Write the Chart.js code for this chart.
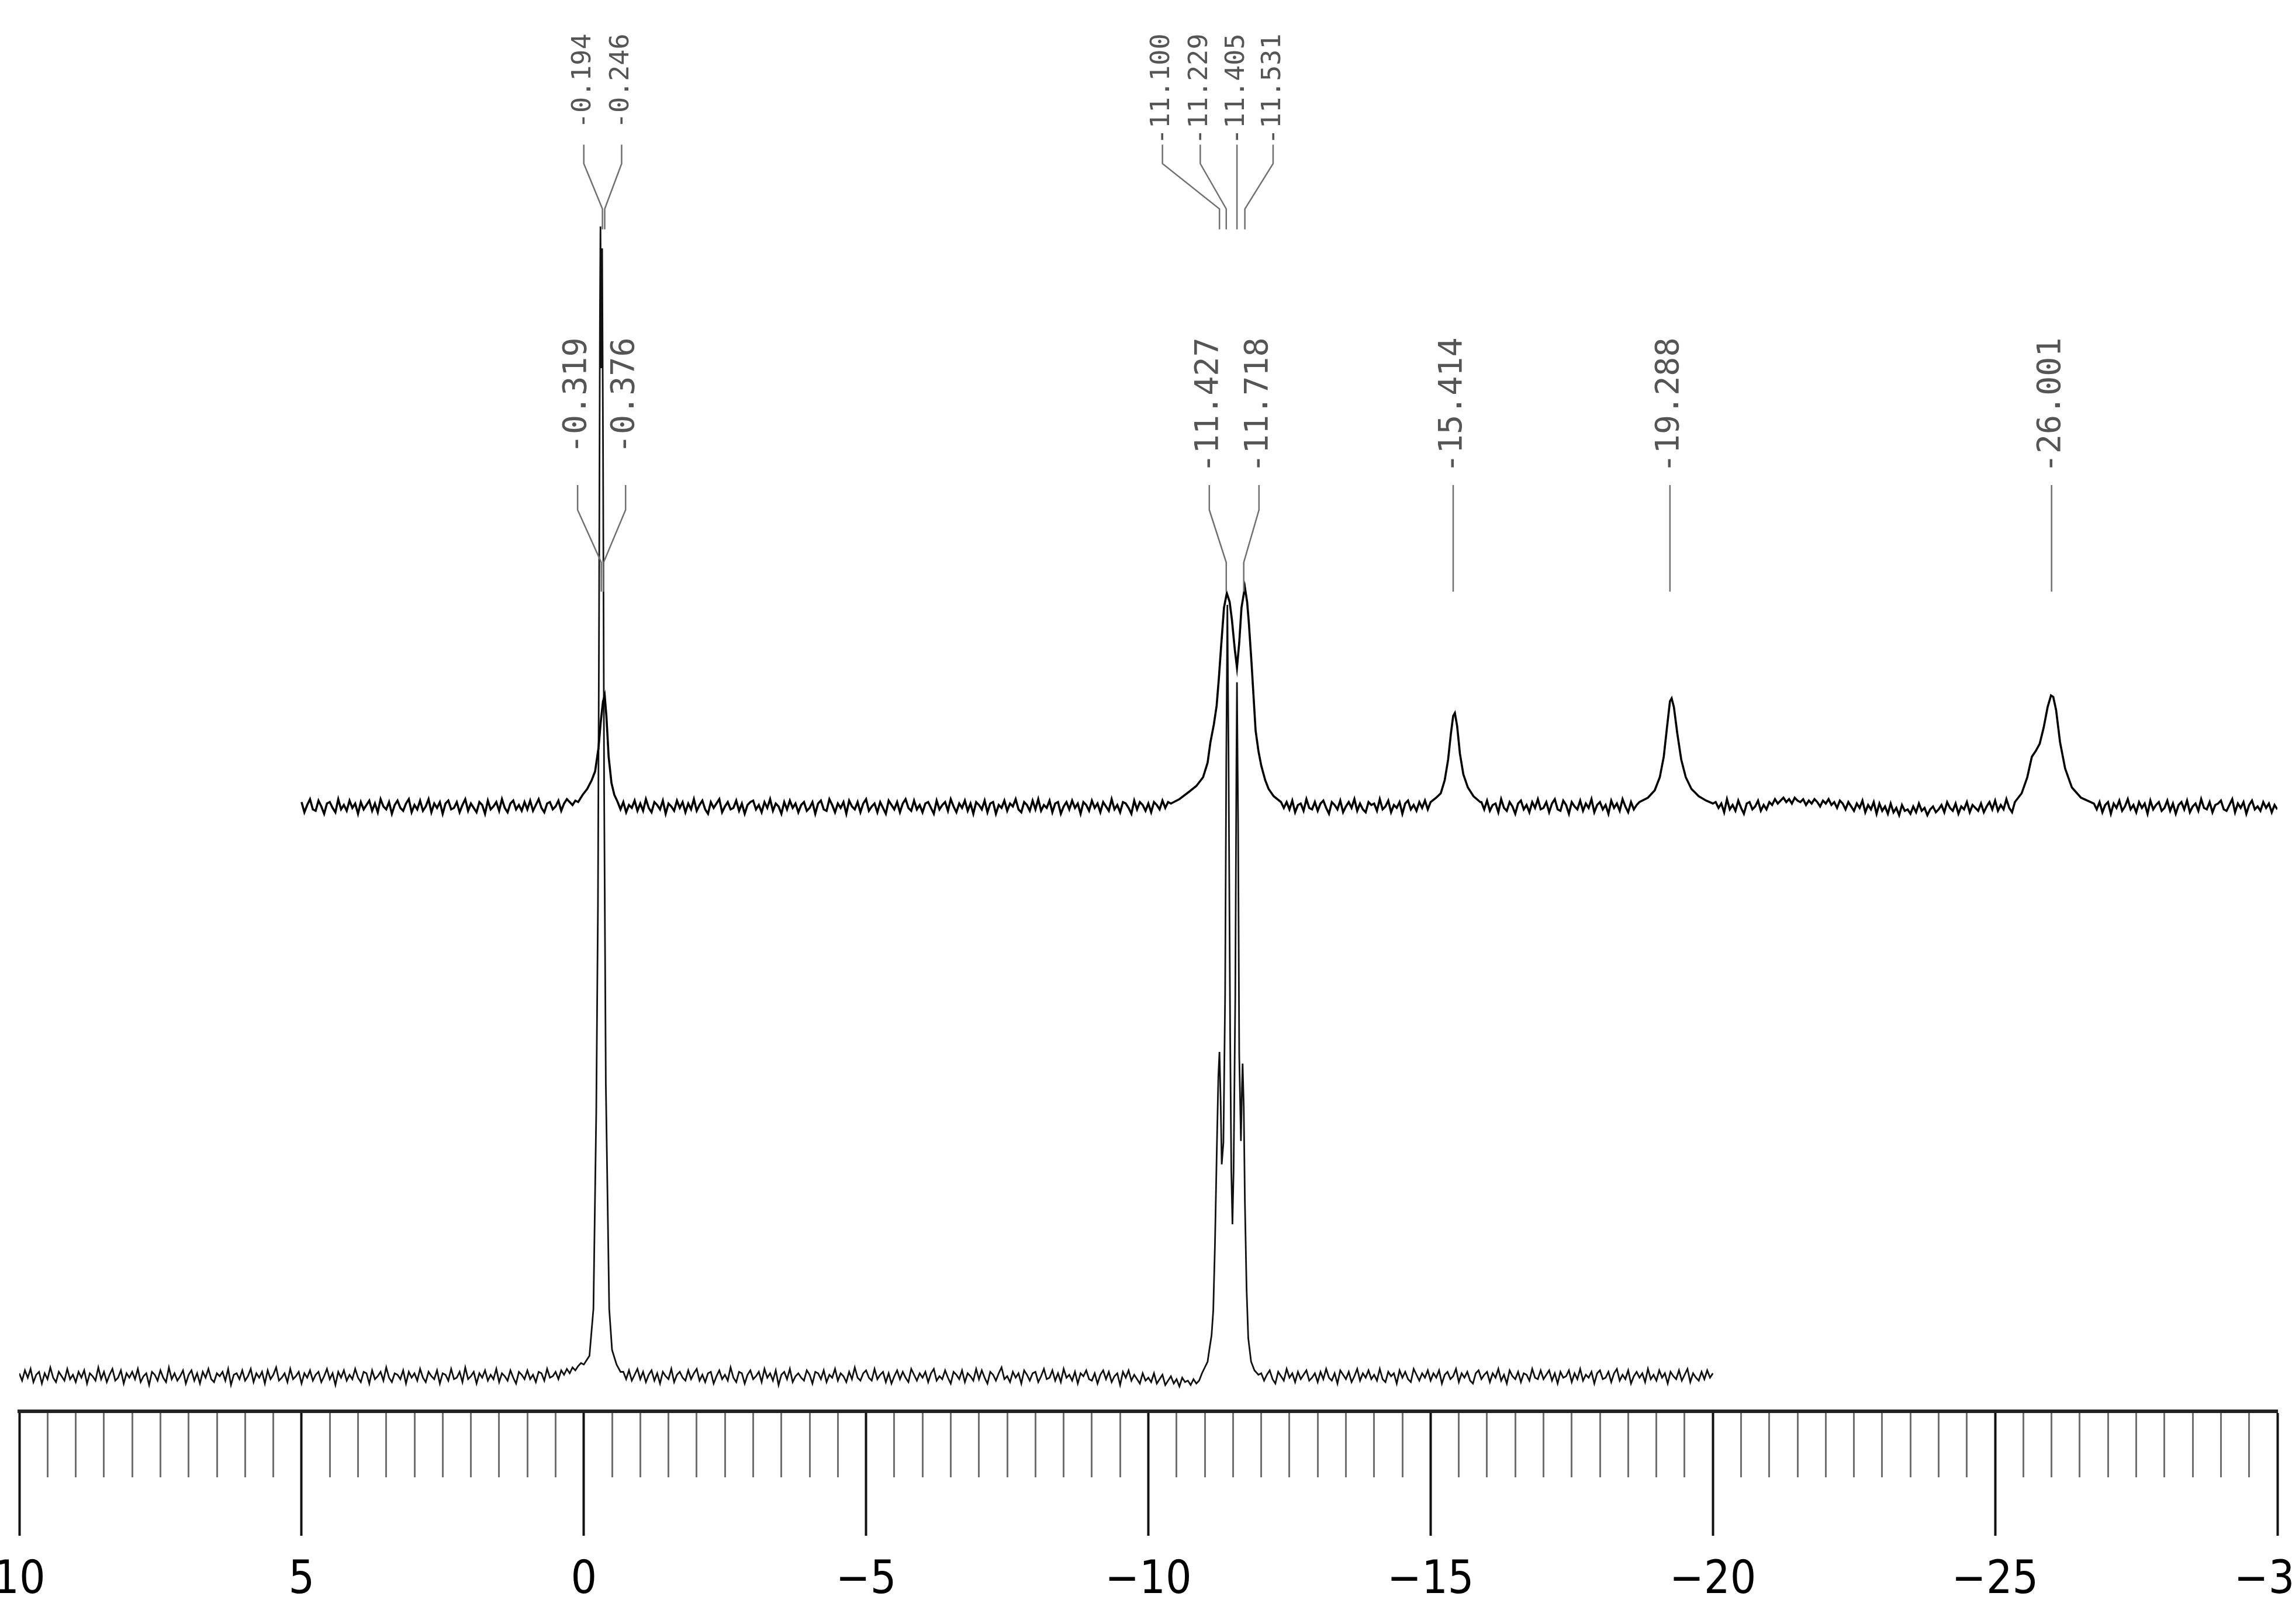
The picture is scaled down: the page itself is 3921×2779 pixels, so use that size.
<!DOCTYPE html>
<html>
<head>
<meta charset="utf-8">
<script src="https://cdn.jsdelivr.net/npm/chart.js@4.4.0/dist/chart.umd.min.js"></script>
<style>
  html, body { margin: 0; padding: 0; background: #fff; }
</style>
</head>
<body>
<canvas id="espectro" width="3921" height="2779"></canvas>
<script>
// ppm ranges of the two traces and the step of the baseline samples
const lowerStart = 10;
const upperStart = 5;
const gridStep = 0.05;

// baseline of the lower trace, 10 -> -20 ppm (intensity above its own baseline)
const lowerNoise = [
  2,-3,4,-1,5,-4,1,3,-5,2,-2,6,-1,-4,3,0,-3,5,-2,1,
  -4,3,-1,4,-5,2,0,-3,6,-2,3,-4,1,5,-3,-1,4,-5,2,-1,
  3,-2,5,-4,0,2,-6,3,1,-3,4,-1,-4,6,-2,2,-3,0,4,-5,
  1,4,-3,2,-5,3,-1,5,-2,-4,2,0,3,-3,5,-6,1,2,-2,4,
  -3,0,5,-4,2,-1,3,-5,4,-2,1,6,-3,-1,2,-4,5,-2,0,3,
  -5,2,-1,4,-3,1,3,-4,0,5,-2,2,-6,3,-1,4,-3,1,-2,5,
  -1,-4,3,2,-5,4,-2,0,3,-3,6,-1,-4,2,1,-2,4,-5,3,-1,
  2,-3,5,-1,-4,3,0,-2,4,-5,2,1,-3,5,-2,-1,3,-4,6,-2,
  0,3,-5,2,-1,4,-3,1,-2,5,-4,2,0,-3,4,-1,-5,3,1,-2,
  4,-2,1,-4,3,2,-3,5,-1,0,3,-2,4,1,5,2,6,4,7,9,
  8,9,10,12,14,0,0,0,0,0,0,0,0,0,3,-2,4,-3,1,5,
  -2,3,-4,1,4,-3,2,-5,3,0,-2,5,-4,1,3,-1,-3,4,-2,2,
  5,-3,1,-4,2,3,-5,0,4,-2,1,-3,6,-1,-4,3,2,-5,1,4,
  -2,0,3,-4,5,-1,2,-3,4,-6,1,3,-2,5,-4,0,2,-1,-3,4,
  1,-5,3,2,-2,4,-4,1,-1,5,-3,2,0,-4,3,-2,6,-1,-3,2,
  4,-1,-3,5,-2,1,3,-4,2,-5,0,4,-2,3,-1,-4,5,1,-3,2,
  -1,3,-4,2,5,-3,0,-2,4,-1,-5,3,1,-2,4,-4,2,0,-3,5,
  -2,4,-1,-5,3,1,-3,2,6,-2,0,-4,3,-1,2,-5,4,1,-3,2,
  3,-4,0,5,-2,-1,4,-3,2,-4,5,-1,1,-3,3,-5,2,0,4,-2,
  -3,2,-5,1,4,-2,3,-4,0,2,-6,3,-1,4,-3,1,-2,-5,2,-3,
  -1,-4,2,-5,-2,1,-6,-3,0,-5,-2,-7,-1,-4,-3,-6,-2,-5,0,0,
  0,0,0,0,0,0,0,0,0,0,0,0,0,0,0,0,0,0,0,0,
  2,-3,1,4,-2,-5,3,0,-3,5,-1,2,-4,3,-2,1,4,-3,-1,2,
  -4,3,-2,5,-1,-3,2,-5,4,1,-2,3,-4,0,5,-3,2,-1,4,-2,
  1,-3,5,-2,-4,3,0,2,-5,4,-1,3,-2,-4,5,1,-3,2,-1,4,
  -3,2,-1,4,-5,1,3,-2,0,5,-4,2,-1,3,-3,-5,2,4,-2,1,
  3,-4,2,-1,5,-3,1,-5,4,0,-2,3,-4,2,1,-3,5,-1,-2,4,
  -2,1,4,-3,2,-5,3,-1,0,4,-4,2,-2,5,-3,1,-1,3,-5,2,
  4,-2,-1,3,-4,2,5,-3,1,-2,4,-5,0,3,-1,2,-4,5,-2,1,
  -3,4,-1,2,-5,3,0,-2,4,-3,1,5,-4,2,-1,-3,3,-2,4,-1,
  2
];

// baseline of the upper trace, 5 -> -30 ppm
const upperNoise = [
  3,-4,1,5,-2,-3,4,0,-5,2,3,-1,-4,5,-2,1,-3,4,-1,2,
  -5,3,-2,1,4,-3,2,-4,5,0,-2,3,-5,1,4,-1,-3,2,5,-4,
  1,-2,4,-3,0,5,-4,2,-1,3,-5,2,4,-2,-1,3,-4,1,5,-3,
  2,-1,-4,3,1,-5,4,-2,0,3,-3,5,-1,-4,2,4,-2,1,-3,3,
  -2,4,-3,1,5,-1,-4,2,3,-2,0,4,-3,2,5,3,1,4,6,5,
  6,7,0,0,0,0,0,0,0,0,0,0,0,-2,3,-4,1,-1,4,-3,
  2,-3,5,-1,-4,3,1,-2,4,-5,2,0,-3,4,-1,3,-4,2,-2,5,
  -3,1,4,-2,-5,3,-1,2,5,-4,0,3,-2,-1,4,-3,2,-5,1,3,
  4,-2,1,-4,3,-1,5,-3,2,0,-5,3,-2,4,-1,2,-4,1,3,-3,
  -1,3,-5,2,4,-2,-3,5,1,-4,2,-1,3,-5,4,0,-2,3,-4,2,
  5,-3,0,2,-4,3,-1,-5,4,1,-2,3,-4,2,5,-1,-3,4,-2,1,
  -4,2,3,-1,-5,4,-2,1,3,-3,5,0,-4,2,-1,4,-3,2,-5,3,
  1,-2,4,-4,2,3,-5,1,-1,4,-3,2,0,5,-2,-4,3,1,-3,4,
  -2,5,-3,1,-1,4,-4,2,3,-5,0,3,-2,4,-1,2,-5,3,1,-3,
  4,-1,2,-4,3,0,-3,5,-2,1,-4,3,2,-1,-5,4,-2,3,1,-3,
  2,-4,3,1,-2,4,-1,3,0,0,0,0,0,0,0,0,0,0,0,0,
  0,0,0,0,0,0,0,0,0,0,0,0,0,0,0,0,0,0,0,0,
  0,0,0,0,0,0,0,0,-1,3,-2,4,-4,1,2,-3,5,-1,-2,3,
  -3,2,4,-1,-5,3,1,-2,4,-4,0,3,-1,5,-3,2,-2,-4,3,1,
  2,-3,5,-2,0,4,-4,1,-1,3,-5,2,4,-2,1,-3,3,-1,4,-2,
  0,0,0,0,0,0,0,0,0,0,0,0,0,0,0,0,0,0,3,-2,
  4,-3,1,2,-4,5,-1,-3,3,0,-5,2,4,-2,1,-4,3,-1,5,-2,
  -1,3,-4,2,5,-2,-3,4,1,-5,3,0,-2,4,-3,2,-1,5,-4,1,
  3,-2,1,-5,4,-1,2,-3,5,0,-4,3,-2,1,0,0,0,0,0,0,
  0,0,0,0,0,0,0,0,0,0,0,0,0,0,0,0,0,0,0,0,
  0,3,-1,2,-4,5,-2,1,-3,4,-1,-5,2,3,-2,0,4,-3,1,-2,
  3,1,5,2,4,6,3,5,2,6,4,3,5,1,4,2,5,3,0,4,
  2,5,1,3,-1,4,2,-2,3,0,-3,2,-1,4,-4,1,-2,3,-5,2,
  -3,0,-5,2,-4,-1,-6,1,-3,-2,-5,0,-4,2,-3,-1,-6,-2,0,-4,
  -2,1,-4,3,-1,-3,2,-5,0,-2,3,-4,1,-1,-3,2,-4,0,3,-2,
  4,-3,1,-2,5,-1,-4,0,0,0,0,0,0,0,0,0,0,0,0,0,
  0,0,0,0,0,0,0,0,0,0,0,0,0,0,0,0,-2,3,-4,1,
  3,-5,2,-1,4,-3,0,5,-2,1,-4,3,-1,2,-5,4,-2,1,3,-3,
  -1,4,-3,2,-5,1,3,-2,4,-4,0,2,-3,5,-1,-2,3,-4,1,2,
  4,-2,-3,1,5,-4,2,-1,3,-5,1,4,-2,0,-3,3,-1,2,-4,1,
  -2
];

// peaks of the lower trace, [ppm, intensity]
const lowerPeaks = [
  [[0.00, 8], [-0.10, 14], [-0.17, 46], [-0.22, 180], [-0.25, 320], [-0.27, 520], [-0.285, 720],
   [-0.295, 787], [-0.31, 690], [-0.325, 772], [-0.34, 640], [-0.36, 400], [-0.39, 200],
   [-0.45, 46], [-0.50, 18], [-0.58, 8], [-0.65, 3]],
  [[-10.90, -3], [-10.95, 2], [-11.00, 6], [-11.05, 10], [-11.08, 18], [-11.12, 28], [-11.15, 45],
   [-11.18, 90], [-11.21, 150], [-11.24, 205], [-11.26, 222], [-11.28, 190], [-11.30, 145],
   [-11.33, 160], [-11.36, 260], [-11.38, 420], [-11.40, 528], [-11.42, 430], [-11.45, 230],
   [-11.47, 140], [-11.49, 104], [-11.51, 140], [-11.54, 260], [-11.56, 420], [-11.57, 475],
   [-11.59, 380], [-11.61, 220], [-11.64, 161], [-11.66, 200], [-11.67, 214], [-11.69, 185],
   [-11.71, 120], [-11.74, 60], [-11.77, 26], [-11.82, 10], [-11.88, 4], [-11.95, 1]]
];

// peaks of the upper trace
const upperPeaks = [
  [[0.10, 3], [0.02, 8], [-0.06, 12], [-0.14, 18], [-0.20, 24], [-0.26, 40], [-0.30, 58],
   [-0.34, 72], [-0.37, 76], [-0.40, 62], [-0.44, 34], [-0.49, 16], [-0.54, 8], [-0.60, 3]],
  [[-10.40, 2], [-10.55, 5], [-10.72, 10], [-10.85, 14], [-10.97, 20], [-11.05, 30], [-11.10, 44],
   [-11.16, 56], [-11.21, 69], [-11.25, 88], [-11.29, 110], [-11.34, 136], [-11.39, 146],
   [-11.44, 140], [-11.48, 128], [-11.53, 108], [-11.57, 95], [-11.61, 112], [-11.65, 136],
   [-11.71, 150], [-11.75, 140], [-11.78, 126], [-11.83, 97], [-11.90, 52], [-11.95, 38],
   [-12.00, 28], [-12.07, 18], [-12.13, 12], [-12.22, 7], [-12.35, 3]],
  [[-15.00, 3], [-15.10, 6], [-15.18, 9], [-15.25, 18], [-15.31, 32], [-15.36, 50], [-15.40, 62],
   [-15.43, 64], [-15.47, 55], [-15.52, 36], [-15.58, 22], [-15.66, 13], [-15.76, 7], [-15.88, 3]],
  [[-18.70, 3], [-18.85, 6], [-18.97, 11], [-19.06, 20], [-19.13, 34], [-19.19, 55], [-19.24, 72],
   [-19.27, 74], [-19.31, 68], [-19.37, 50], [-19.44, 32], [-19.52, 20], [-19.62, 12],
   [-19.75, 7], [-19.88, 4], [-20.00, 2]],
  [[-25.35, 3], [-25.47, 9], [-25.57, 20], [-25.65, 34], [-25.72, 38], [-25.79, 43], [-25.86, 54],
   [-25.93, 68], [-25.99, 76], [-26.03, 75], [-26.08, 66], [-26.15, 44], [-26.24, 26],
   [-26.36, 13], [-26.52, 6], [-26.75, 2]]
];

// peak labels: text, where the label sits, which peak its leader points to (ppm)
const topLabels = ['-0.194', '-0.246', '-11.100', '-11.229', '-11.405', '-11.531'];
const topLabelPos = [0.00, -0.67, -10.25, -10.92, -11.57, -12.21];
const topLabelPeak = [-0.33, -0.37, -11.26, -11.38, -11.57, -11.71];

const midLabels = ['-0.319', '-0.376', '-11.427', '-11.718', '-15.414', '-19.288', '-26.001'];
const midLabelPos = [0.11, -0.74, -11.08, -11.96, -15.40, -19.24, -26.00];
const midLabelPeak = [-0.31, -0.35, -11.38, -11.69, -15.40, -19.24, -26.00];

const majorTicks = [10, 5, 0, -5, -10, -15, -20, -25, -30];

// vertical offset of the upper trace
const upperOffset = 390;

function armarTrazo(start, noise, peaks, offset) {
  const puntos = [];
  noise.forEach((v, i) => {
    const x = +(start - i * gridStep).toFixed(2);
    const dentro = peaks.some(p => x <= p[0][0] && x >= p[p.length - 1][0]);
    if (!dentro) puntos.push({x: x, y: v + offset});
  });
  peaks.forEach(p => p.forEach(([x, y]) => puntos.push({x: x, y: y + offset})));
  puntos.sort((a, b) => b.x - a.x);
  return puntos;
}

const grupos = [
  {textos: topLabels, pos: topLabelPos, picos: topLabelPeak, font: 45,
   tope: 919, y1: 843, y2: 830, y3: 799, y4: 785},
  {textos: midLabels, pos: midLabelPos, picos: midLabelPeak, font: 55,
   tope: 711, y1: 610, y2: 593, y3: 557, y4: 537}
];

const etiquetasPicos = {
  id: 'etiquetasPicos',
  afterDatasetsDraw(chart) {
    const ctx = chart.ctx;
    const xs = chart.scales.x;
    const ys = chart.scales.y;
    ctx.save();
    grupos.forEach(g => {
      g.textos.forEach((t, i) => {
        const xl = xs.getPixelForValue(g.pos[i]);
        const xp = xs.getPixelForValue(g.picos[i]);
        // texto girado
        ctx.save();
        ctx.translate(xl, ys.getPixelForValue(g.tope));
        ctx.rotate(-Math.PI / 2);
        ctx.font = g.font + "px 'DejaVu Sans Mono', monospace";
        ctx.fillStyle = '#555555';
        ctx.textAlign = 'right';
        ctx.textBaseline = 'middle';
        ctx.fillText(t, 0, 0);
        ctx.restore();
        // linea guia
        ctx.beginPath();
        ctx.strokeStyle = '#707070';
        ctx.lineWidth = 2.5;
        ctx.moveTo(xl, ys.getPixelForValue(g.y1));
        ctx.lineTo(xl, ys.getPixelForValue(g.y2));
        ctx.lineTo(xp, ys.getPixelForValue(g.y3));
        ctx.lineTo(xp, ys.getPixelForValue(g.y4));
        ctx.stroke();
      });
    });
    ctx.restore();
  }
};

const ctx = document.getElementById('espectro').getContext('2d');
new Chart(ctx, {
  type: 'line',
  data: {
    datasets: [
      {
        label: 'superior',
        data: armarTrazo(upperStart, upperNoise, upperPeaks, upperOffset),
        borderColor: '#000000',
        borderWidth: 3.6,
        pointRadius: 0,
        tension: 0
      },
      {
        label: 'inferior',
        data: armarTrazo(lowerStart, lowerNoise, lowerPeaks, 0),
        borderColor: '#111111',
        borderWidth: 2.8,
        pointRadius: 0,
        tension: 0
      }
    ]
  },
  options: {
    responsive: false,
    devicePixelRatio: 1,
    animation: false,
    parsing: false,
    layout: {padding: {left: 33, right: 25, top: 0, bottom: 0}},
    plugins: {
      legend: {display: false},
      tooltip: {enabled: false}
    },
    scales: {
      x: {
        type: 'linear',
        reverse: true,
        min: -30,
        max: 10,
        position: {y: -24},
        afterFit: s => { s.paddingLeft = 0; s.paddingRight = 0; },
        border: {display: true, color: '#222222', width: 6},
        grid: {
          drawOnChartArea: false,
          drawTicks: true,
          tickLength: 210,
          tickWidth: c => majorTicks.includes(c.tick.value) ? 4 : 3,
          tickColor: c => majorTicks.includes(c.tick.value) ? '#111111' : '#707070',
          tickBorderDash: c => majorTicks.includes(c.tick.value) ? [] : [110, 400]
        },
        ticks: {
          stepSize: 0.5,
          maxTicksLimit: 100,
          autoSkip: false,
          maxRotation: 0,
          minRotation: 0,
          padding: 34,
          color: '#000000',
          font: {family: "'DejaVu Sans Condensed', 'Liberation Sans Narrow', 'DejaVu Sans', sans-serif", size: 78},
          callback: v => {
            if (!majorTicks.includes(v)) return '';
            return v < 0 ? '\u2212' + Math.abs(v) : String(v);
          }
        }
      },
      y: {
        type: 'linear',
        display: false,
        min: -169.6,
        max: 942
      }
    }
  },
  plugins: [etiquetasPicos]
});
</script>
</body>
</html>
